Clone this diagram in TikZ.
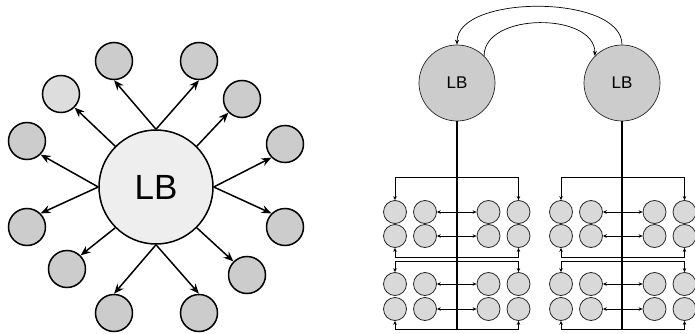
\documentclass[tikz,border=0pt]{standalone}
\usepackage{fontspec}
\setmainfont{Liberation Sans}
\usetikzlibrary{arrows.meta}

\definecolor{lbgrey}{HTML}{EEEEEE}
\definecolor{nodegrey}{HTML}{CCCCCC}
\definecolor{palegrey}{HTML}{DDDDDD}
\definecolor{cellgrey}{HTML}{D9D9D9}

\tikzset{
  server/.style={circle,draw,line width=1.5pt,fill=nodegrey,minimum size=37pt,inner sep=0pt},
  spoke/.style={line width=1.5pt,-{Stealth[length=10pt,width=8pt]}},
  balancer/.style={circle,draw=black!85,line width=0.7pt,fill=nodegrey,minimum size=76pt,inner sep=0pt,font=\fontsize{17}{20}\selectfont},
  cell/.style={circle,draw=black!85,line width=0.8pt,fill=cellgrey,minimum size=23pt,inner sep=0pt},
  link/.style={line width=0.7pt,{Stealth[length=4pt,width=3.5pt]}-{Stealth[length=4pt,width=3.5pt]}},
  sync/.style={line width=0.7pt,-{Stealth[length=5pt,width=4pt]}},
  trunk/.style={line width=1.8pt}
}

\begin{document}
\begin{tikzpicture}[x=1pt,y=-1pt]
    \useasboundingbox (0,0) rectangle (695,334);

    % single balancer with its ring of servers
    \node[circle,draw,line width=1.5pt,fill=lbgrey,minimum size=114pt,font=\fontsize{35}{40}\selectfont] (lb) at (156,187) {LB};
    \foreach \n/\x/\y in {1/114/61, 2/199/61, 3/242/99, 4/285/144, 5/285/227, 6/247/275,
                          7/199/313, 8/114/313, 9/67/269, 10/27/227, 11/27/141}
        \node[server] (n\n) at (\x,\y) {};
    \node[server,fill=palegrey] (n12) at (61,94) {};

    \foreach \s/\n/\t in {north/1/south, north/2/south, north east/3/south west,
                          east/4/south west, east/5/north west, south east/6/north west,
                          south/7/north, south/8/north, south west/9/north east,
                          west/10/north east, west/11/south east, north west/12/south east}
        \draw[spoke] (lb.\s) -- (n\n.\t);

    % pair of balancers
    \node[balancer] (lbA) at (457,83) {LB};
    \node[balancer] (lbB) at (622,83) {LB};
    \draw[sync] (lbB.north) .. controls (622,-6) and (457,-6) .. (lbA.north);
    \draw[sync] (lbA.north east) .. controls (484,12) and (595,12) .. (lbB.north west);

    % server grids under each balancer
    \foreach \g/\dx in {a/0, b/166} {
        \foreach \r/\y in {1/212, 2/236, 3/284, 4/309} {
            \foreach \c/\x in {1/395, 2/425, 3/488.5, 4/518.5}
                \node[cell] (\g\r\c) at (\x+\dx,\y) {};
            \draw[link] (\g\r2) -- (\g\r3);
        }
        \draw[link] (\g11.north) -- ++(0,-23) -| (\g14.north);
        \draw[link] (\g21.south) -- ++(0,9.5) -| (\g24.south);
        \draw[link] (\g31.north) -- ++(0,-11) -| (\g34.north);
        \draw[link] (\g41.south) -- ++(0,8) -| (\g44.south);
    }

    \coordinate (endA) at (457,330);
    \coordinate (endB) at (622,330);
    \draw[trunk] (lbA.south) -- (endA);
    \draw[trunk] (lbB.south) -- (endB);
\end{tikzpicture}
\end{document}
